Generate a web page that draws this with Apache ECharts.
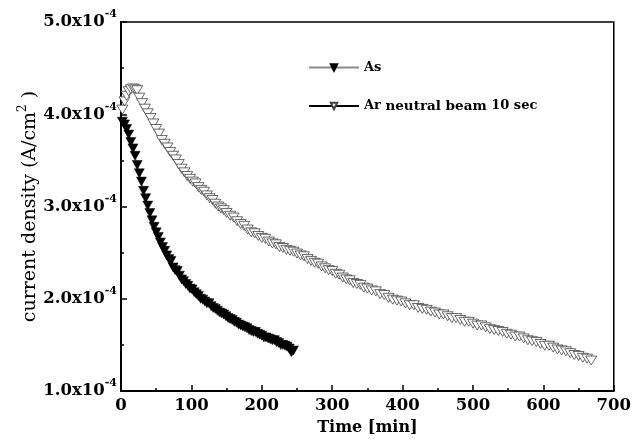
<!DOCTYPE html>
<html>
<head>
<meta charset="utf-8">
<script src="https://cdn.jsdelivr.net/npm/echarts@6/dist/echarts.min.js"></script>
<style>
html,body{margin:0;padding:0;background:#fff;}
#chart{width:634px;height:443px;}
</style>
</head>
<body>
<div id="chart"></div>
<script>
// Time in minutes, current density in units of 1e-4 A/cm^2
const asTime = [2,5,8,11,14,17,20,23,26,29,32,35,38,41,44,47,50,53,56,59,62,65,68,71,74,77,80,83,86,89,92,95,98,101,104,107,110,113,116,119,122,125,128,131,134,137,140,143,146,149,152,155,158,161,164,167,170,173,176,179,182,185,188,191,194,197,200,203,206,209,212,215,218,221,224,227,230,233,236,239,242,245];
const asDensity = [3.92,3.89,3.84,3.78,3.70,3.63,3.55,3.45,3.36,3.27,3.17,3.09,3.01,2.93,2.85,2.78,2.72,2.67,2.61,2.56,2.52,2.47,2.43,2.41,2.34,2.31,2.30,2.25,2.21,2.19,2.16,2.14,2.11,2.10,2.07,2.05,2.03,2.00,1.99,1.97,1.95,1.95,1.92,1.90,1.89,1.87,1.85,1.84,1.83,1.81,1.79,1.78,1.77,1.75,1.74,1.72,1.71,1.70,1.69,1.68,1.66,1.65,1.64,1.64,1.62,1.61,1.60,1.58,1.58,1.57,1.56,1.55,1.55,1.53,1.52,1.50,1.50,1.49,1.48,1.46,1.42,1.44];

const arTime = [2,5,8,11,14,17,20,23,26,30,34,38,42,46,50,54,58,62,66,70,74,78,82,86,90,94,98,102,106,110,114,118,122,126,130,134,138,142,146,150,155,160,165,170,175,180,185,190,195,200,205,210,215,220,225,230,235,240,245,250,255,260,265,270,275,280,285,290,295,300,305,310,315,320,325,330,335,340,345,350,356,362,368,374,380,386,392,398,404,410,416,422,428,434,440,446,452,458,464,470,476,482,488,494,500,506,512,518,524,530,536,542,548,554,560,566,572,578,584,590,596,602,608,614,620,626,632,638,644,650,656,662,668];
const arDensity = [4.05,4.14,4.20,4.25,4.27,4.28,4.27,4.26,4.18,4.12,4.06,4.01,3.96,3.90,3.84,3.79,3.72,3.68,3.64,3.59,3.55,3.51,3.46,3.41,3.37,3.33,3.30,3.27,3.25,3.21,3.18,3.16,3.12,3.09,3.07,3.03,3.00,2.98,2.96,2.93,2.90,2.88,2.84,2.81,2.79,2.75,2.72,2.71,2.68,2.66,2.65,2.62,2.60,2.59,2.56,2.55,2.53,2.52,2.51,2.49,2.47,2.46,2.43,2.41,2.39,2.38,2.35,2.33,2.31,2.30,2.27,2.26,2.23,2.21,2.20,2.17,2.16,2.15,2.12,2.11,2.09,2.08,2.05,2.04,2.01,1.99,1.98,1.97,1.95,1.93,1.93,1.90,1.89,1.88,1.86,1.85,1.83,1.83,1.81,1.79,1.79,1.77,1.75,1.75,1.73,1.71,1.71,1.69,1.67,1.66,1.65,1.64,1.62,1.61,1.59,1.59,1.57,1.55,1.54,1.53,1.51,1.49,1.49,1.47,1.45,1.44,1.43,1.41,1.39,1.38,1.36,1.35,1.33];

const xTicks = [0,100,200,300,400,500,600,700];
const yTicks = [1,2,3,4,5];
const seriesNames = ['As', 'Ar neutral beam 10 sec'];

const serif = 'DejaVu Serif';
const chart = echarts.init(document.getElementById('chart'), null, {renderer:'canvas'});
const pairs = (xs, ys) => xs.map((x, i) => [x, ys[i]]);

chart.setOption({
  animation: false,
  backgroundColor: '#fff',
  grid: {left:121, top:22, width:496, height:369, show:true, borderColor:'#000', borderWidth:1.5, backgroundColor:'transparent'},
  legend: {
    orient:'vertical', left:303, top:56, itemWidth:50, itemHeight:8, itemGap:25,
    symbolRotate:'inherit',
    data: seriesNames,
    formatter: n => n === seriesNames[1] ? '{a|Ar} {b|neutral beam} {a|10 sec}' : '{a|' + n + '}',
    textStyle: {color:'#000', fontFamily:serif, fontWeight:'bold', fontSize:13,
      rich: {a:{fontFamily:serif, fontWeight:'bold', fontSize:13, color:'#000'},
             b:{fontFamily:serif, fontWeight:'bold', fontSize:13.5, color:'#000'}}}
  },
  xAxis: {
    type:'value', min:xTicks[0], max:xTicks[xTicks.length-1], interval:100,
    axisLine:{onZero:false, lineStyle:{color:'#000', width:2}},
    axisTick:{inside:true, length:6, lineStyle:{color:'#000', width:1.5}},
    minorTick:{show:true, splitNumber:2, length:3, lineStyle:{color:'#000', width:1.5}},
    splitLine:{show:false},
    axisLabel:{color:'#000', fontFamily:serif, fontWeight:'bold', fontSize:16.5, margin:6},
    name:'Time [min]', nameLocation:'middle', nameGap:29,
    nameTextStyle:{color:'#000', fontFamily:serif, fontWeight:'bold', fontSize:16}
  },
  yAxis: {
    type:'value', min:yTicks[0], max:yTicks[yTicks.length-1], interval:1,
    axisLine:{onZero:false, lineStyle:{color:'#000', width:2}},
    axisTick:{inside:true, length:6, lineStyle:{color:'#000', width:1.5}},
    minorTick:{show:true, splitNumber:2, length:3, lineStyle:{color:'#000', width:1.5}},
    splitLine:{show:false},
    axisLabel:{
      margin:4,
      formatter: v => '{m|' + v.toFixed(1) + 'x10}{s|-4}',
      rich:{
        m:{fontFamily:serif, fontWeight:'bold', fontSize:16.5, color:'#000', lineHeight:26},
        s:{fontFamily:serif, fontWeight:'bold', fontSize:11, color:'#000', verticalAlign:'top', lineHeight:11}
      }
    },
    name:'current density (A/cm{s|2} )', nameLocation:'middle', nameGap:78, nameRotate:90,
    nameMoveOverlap:false,
    nameTextStyle:{color:'#000', fontFamily:serif, fontWeight:'normal', fontSize:19, lineHeight:26,
      rich:{s:{fontFamily:serif, fontSize:12, color:'#000', verticalAlign:'top', lineHeight:12}}}
  },
  series: [
    {
      name: seriesNames[0], type:'line', data: pairs(asTime, asDensity),
      symbol:'triangle', symbolRotate:180, symbolSize:[10,9],
      lineStyle:{color:'#8a8a8a', width:1},
      itemStyle:{color:'#000', borderColor:'#000', borderWidth:0.5},
      z:3
    },
    {
      name: seriesNames[1], type:'line', data: pairs(arTime, arDensity),
      symbol:'triangle', symbolRotate:180, symbolSize:[11,9],
      lineStyle:{color:'#000', width:1},
      itemStyle:{color:'#fff', borderColor:'#444', borderWidth:0.8},
      z:2
    }
  ]
});
</script>
</body>
</html>
